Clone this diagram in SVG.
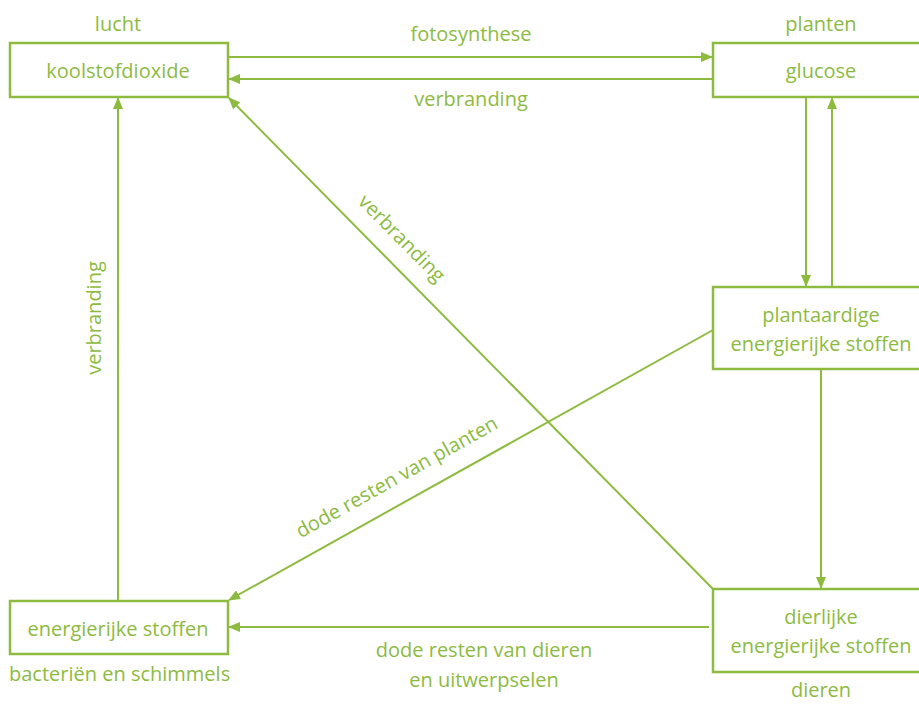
<svg xmlns="http://www.w3.org/2000/svg" width="919" height="704" viewBox="0 0 919 704">
<style>
.box{fill:#fff;stroke:#8dbb3f;stroke-width:2.5}
.ln{fill:none;stroke:#8dbb3f;stroke-width:2}
text{font-family:"Open Sans","DejaVu Sans",sans-serif;font-size:20px;fill:#8dbb3f}
.c{text-anchor:middle}
</style>
<defs>
<marker id="ah" markerUnits="userSpaceOnUse" markerWidth="12" markerHeight="10" refX="11" refY="5" orient="auto">
<path d="M0,0 L12,5 L0,10 Z" fill="#8dbb3f"/>
</marker>
</defs>
<rect width="919" height="704" fill="#fff"/>
<g id="connectors">
<line class="ln" x1="228" y1="57" x2="712" y2="57" marker-end="url(#ah)"/>
<line class="ln" x1="713" y1="79" x2="229" y2="79" marker-end="url(#ah)"/>
<line class="ln" x1="806" y1="97" x2="806" y2="286" marker-end="url(#ah)"/>
<line class="ln" x1="832" y1="287" x2="832" y2="98" marker-end="url(#ah)"/>
<line class="ln" x1="821" y1="369" x2="821" y2="588" marker-end="url(#ah)"/>
<line class="ln" x1="118" y1="601" x2="118" y2="98" marker-end="url(#ah)"/>
<line class="ln" x1="713" y1="589" x2="229" y2="98" marker-end="url(#ah)"/>
<line class="ln" x1="713" y1="330" x2="229" y2="600" marker-end="url(#ah)"/>
<line class="ln" x1="709" y1="627" x2="229" y2="627" marker-end="url(#ah)"/>
<text class="c" x="471" y="41">fotosynthese</text>
<text class="c" x="471" y="106">verbranding</text>
<text class="c" transform="translate(101,318) rotate(-90)">verbranding</text>
<text class="c" transform="translate(397,243) rotate(45.4)">verbranding</text>
<text class="c" transform="translate(400,483) rotate(-29.2)">dode resten van planten</text>
<text class="c" x="484" y="657">dode resten van dieren</text>
<text class="c" x="484" y="687">en uitwerpselen</text>
</g>
<g id="koolstofdioxide">
<text class="c" x="118" y="31">lucht</text>
<rect class="box" x="10" y="43" width="218" height="54"/>
<text class="c" x="118" y="78">koolstofdioxide</text>
</g>
<g id="glucose">
<text class="c" x="821" y="31">planten</text>
<rect class="box" x="713" y="43" width="220" height="54"/>
<text class="c" x="821" y="78">glucose</text>
</g>
<g id="plantaardig">
<rect class="box" x="713" y="287" width="220" height="82"/>
<text class="c" x="821" y="322">plantaardige</text>
<text class="c" x="821" y="351">energierijke stoffen</text>
</g>
<g id="dierlijk">
<rect class="box" x="713" y="589" width="220" height="83"/>
<text class="c" x="821" y="624">dierlijke</text>
<text class="c" x="821" y="653">energierijke stoffen</text>
<text class="c" x="821" y="697">dieren</text>
</g>
<g id="energierijk">
<rect class="box" x="10" y="601" width="218" height="53"/>
<text class="c" x="118" y="636">energierijke stoffen</text>
<text x="9" y="681">bacteriën en schimmels</text>
</g>
</svg>
